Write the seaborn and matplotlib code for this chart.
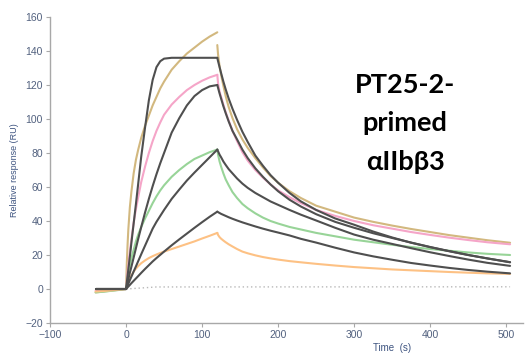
import matplotlib
matplotlib.use("Agg")
import matplotlib.pyplot as plt
import numpy as np
import pandas as pd
import seaborn as sns

# ---- time grids (s) ----
t_pre = [-40, -30, -20, -10, 0]
t_assoc = [0, 1, 2, 3, 5, 7, 10, 13, 16, 20, 25, 30, 35, 40, 45, 50,
           60, 70, 80, 90, 100, 110, 120]
t_dissoc = [120, 121, 123, 125, 128, 131, 135, 140, 146, 153, 160, 170,
            180, 190, 200, 215, 230, 250, 275, 300, 325, 350, 375, 400,
            425, 450, 475, 505]

# ---- measured responses (RU) ----
tan_pre = [-2, -1.5, -1, -0.5, 0]
tan_assoc = [0, 15, 26, 35, 48, 57, 68, 76, 82, 89, 96, 102, 108, 113, 118,
             122, 129, 134, 138.5, 142, 145.5, 148.5, 151]
tan_dissoc = [143.5, 138, 131, 126, 119.5, 113.5, 107, 100.5, 94, 88, 83, 77,
              71.5, 66.5, 62.5, 57.5, 53.5, 49, 45.5, 42, 39.5, 37.3, 35.3,
              33.5, 31.7, 30.2, 28.7, 27.2]

pink_pre = [-1, -0.8, -0.5, -0.3, 0]
pink_assoc = [0, 5, 10, 14, 22, 29, 39, 47, 54, 63, 72, 80, 87, 93, 98, 102.5,
              108.5, 113, 117, 120, 122.5, 124.5, 126]
pink_dissoc = [126, 121, 116, 113, 108.5, 104, 99, 93, 87, 80.5, 75.5, 70,
               65.5, 61.5, 58, 54, 50.5, 46.5, 43, 40, 37.5, 35.5, 33.5, 31.8,
               30.2, 28.8, 27.5, 26.3]

green_pre = [-2, -1.6, -1.1, -0.6, 0]
green_assoc = [0, 3, 6, 9, 14, 18, 23, 28, 32, 36.5, 41.5, 46, 50.5, 54.5, 58,
               61, 66, 70, 73.5, 76.5, 78.5, 80.5, 82]
green_dissoc = [82, 79, 75, 72, 68, 64.5, 61, 57, 53.5, 50, 47.5, 44.5, 42, 40,
                38.5, 36.5, 35, 33, 31, 29, 27.5, 26, 24.7, 23.5, 22.5, 21.5,
                20.7, 20]

orange_pre = [-1.5, -1.2, -0.8, -0.4, 0]
orange_assoc = [0, 1.5, 3, 4.2, 6.2, 8, 10.2, 12, 13.5, 15.2, 16.8, 18.2, 19.3,
                20.3, 21.2, 22, 23.5, 25, 26.5, 28, 29.7, 31.3, 33]
orange_dissoc = [33, 31.8, 30.5, 29.6, 28.5, 27.5, 26.3, 25, 23.5, 22, 21,
                 19.8, 18.8, 18, 17.3, 16.4, 15.7, 14.8, 13.8, 12.9, 12.2,
                 11.5, 11, 10.5, 10, 9.6, 9.2, 8.9]

# ---- kinetic fits (RU) ----
fit_pre = [0, 0, 0, 0, 0]
fit1_assoc = [0, 3.8, 7.6, 11.4, 19, 27, 38.5, 50, 62, 78, 95, 111, 123, 130.5,
              134, 135.5, 136, 136, 136, 136, 136, 136, 136]
fit1_dissoc = [136, 134, 130.5, 127, 122, 117.5, 112, 106, 99.5, 92.5, 86.5,
               78.5, 72.5, 67, 62.5, 56.5, 51.5, 46.5, 41.5, 37.8, 33.8, 30.3,
               27.2, 24.6, 22.2, 20, 18, 15.8]
fit2_assoc = [0, 1.9, 3.8, 5.7, 9.5, 13, 18.5, 24, 29.5, 36.5, 45, 53, 60.5,
              67.5, 74, 80, 92, 100.5, 108, 113.5, 117, 119.2, 120]
fit2_dissoc = [120, 118.3, 115, 112, 107.5, 103.5, 98.5, 93, 88, 82, 77, 71,
               66, 61.5, 57.5, 52.5, 48.5, 44, 39.5, 36, 32.8, 30, 27.3, 24.7,
               22.3, 20, 18, 15.7]
fit3_assoc = [0, 1.05, 2.1, 3.1, 5.2, 7.2, 10.3, 13.3, 16.4, 20.5, 25.5, 30.5,
              35.5, 39.5, 43, 46.5, 53, 58.5, 63.8, 68.5, 73, 77.5, 82]
fit3_dissoc = [82, 81, 79, 77.5, 75, 73, 70.5, 68, 65, 62, 59.5, 56.5, 54,
               51.5, 49.5, 46.5, 43.7, 40.3, 36, 32, 29, 26.5, 24, 21.6, 19.4,
               17.3, 15.4, 13.6]
fit4_assoc = [0, 0.48, 0.96, 1.44, 2.4, 3.4, 4.8, 6.2, 7.6, 9.5, 11.8, 14,
              16.2, 18.2, 20.1, 22, 25.7, 29.2, 32.6, 36, 39.3, 42.5, 45.5]
fit4_dissoc = [45.5, 45.2, 44.7, 44.2, 43.6, 43, 42.2, 41.3, 40.3, 39.2, 38.2,
               36.8, 35.5, 34.3, 33.2, 31.5, 29.5, 27.3, 24.3, 21.5, 19.2,
               17.2, 15.3, 13.8, 12.4, 11.2, 10.2, 9.2]

# buffer blank channel
t_blank = [0, 20, 40, 505]
blank = [0, 0.6, 1.2, 1.3]

data_colors = {"tan": "#d2b87f", "pink": "#f5a5c8",
               "green": "#98d498", "orange": "#fdc184"}
fit_color = "#4f4f4f"


def segments(name, pre, assoc, dissoc):
    rows = []
    for seg, (tt, vv) in enumerate([(t_pre, pre), (t_assoc, assoc),
                                    (t_dissoc, dissoc)]):
        for t, v in zip(tt, vv):
            rows.append({"curve": name, "seg": f"{name}-{seg}", "t": t, "v": v})
    return rows


data_rows = []
data_rows += segments("tan", tan_pre, tan_assoc, tan_dissoc)
data_rows += segments("pink", pink_pre, pink_assoc, pink_dissoc)
data_rows += segments("green", green_pre, green_assoc, green_dissoc)
data_rows += segments("orange", orange_pre, orange_assoc, orange_dissoc)
df_data = pd.DataFrame(data_rows)

fit_rows = []
fit_rows += segments("fit1", fit_pre, fit1_assoc, fit1_dissoc)
fit_rows += segments("fit2", fit_pre, fit2_assoc, fit2_dissoc)
fit_rows += segments("fit3", fit_pre, fit3_assoc, fit3_dissoc)
fit_rows += segments("fit4", fit_pre, fit4_assoc, fit4_dissoc)
df_fit = pd.DataFrame(fit_rows)

df_blank = pd.DataFrame({"t": t_blank, "v": blank})

sns.set_style("ticks")
plt.rcParams["font.family"] = ["Liberation Sans", "DejaVu Sans"]

fig = plt.figure(figsize=(5.26, 3.53), dpi=100)
ax = fig.add_axes([50 / 526, 1 - 323 / 353, 473 / 526, 306 / 353])

sns.lineplot(data=df_blank, x="t", y="v", color="#b8b8b8", lw=1.0,
             linestyle=(0, (1, 2)), ax=ax, legend=False)
sns.lineplot(data=df_data, x="t", y="v", hue="curve", units="seg",
             estimator=None, sort=False, palette=data_colors, lw=1.5,
             legend=False, ax=ax)
sns.lineplot(data=df_fit, x="t", y="v", units="seg", estimator=None,
             sort=False, color=fit_color, lw=1.5, legend=False, ax=ax)

ax.set_xlim(-100, 522)
ax.set_ylim(-20, 160)
ax.set_xticks(range(-100, 501, 100))
ax.set_yticks(range(-20, 161, 20))
ax.set_xlabel("")
ax.set_ylabel("")

for side in ("top", "right"):
    ax.spines[side].set_visible(False)
for side in ("left", "bottom"):
    ax.spines[side].set_color("#a8a8a8")
    ax.spines[side].set_linewidth(1.0)
ax.tick_params(axis="both", length=3, width=0.8, color="#a8a8a8",
               labelcolor="#52617f", labelsize=7.5, pad=2)

ax.text(-0.074, 0.5, "Relative response (RU)", transform=ax.transAxes,
        rotation=90, ha="center", va="center", fontsize=6.5, color="#3e5480")
ax.text(350, -34.5, "Time  (s)", ha="center", va="center", fontsize=7,
        color="#3e5480", clip_on=False)

for label, y in (("PT25-2-", 115.5), ("primed", 92.8), ("αIIbβ3", 70.0)):
    ax.text(367, y, label, ha="center", va="baseline", fontsize=19.5,
            fontweight="bold", family=["Lato", "DejaVu Sans"], color="black")

fig.savefig("out.png", dpi=100)
